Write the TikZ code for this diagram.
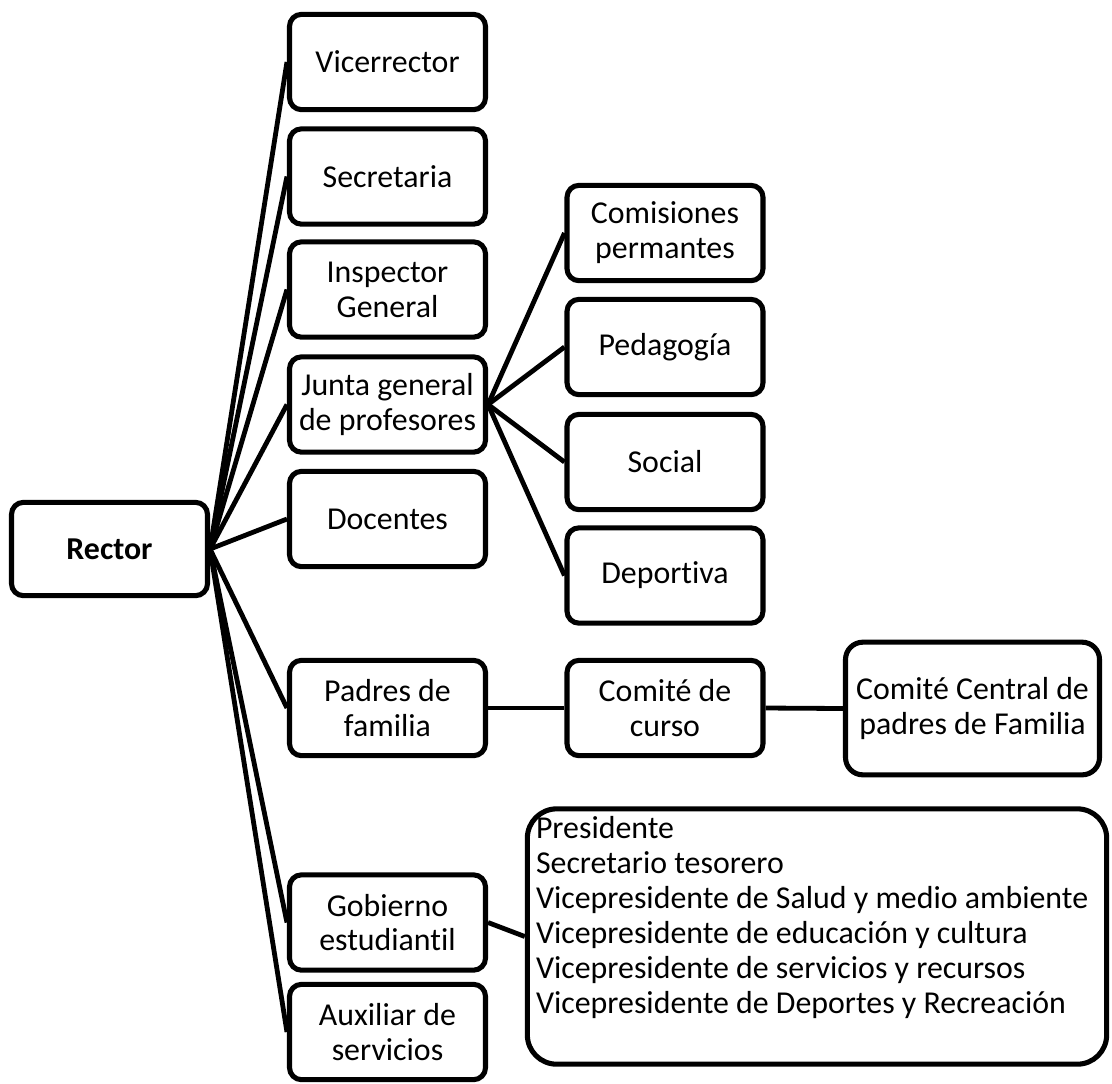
\documentclass[tikz,border=0pt]{standalone}
\usepackage{fontspec}
\setmainfont{Carlito}[Ligatures=NoCommon]

\tikzset{
  unit/.style={draw, line width=3.8pt, rounded corners=9pt, fill=white,
    minimum width=147pt, minimum height=71.5pt, inner sep=2pt, align=center},
  link/.style={line width=3.6pt},
}

\begin{document}
\begin{tikzpicture}[x=0.75pt, y=-0.75pt, font=\fontsize{23.9pt}{26.2pt}\selectfont]
  % Frame
  \useasboundingbox (0,0) rectangle (1112,1083);

  % Rector
  \node[unit, minimum height=70pt] (rector) at (109.5,549) {\bfseries Rector};

  % First level
  \node[unit] (vice)   at (387.5,62)    {Vicerrector};
  \node[unit] (secre)  at (387.5,176.5) {Secretaria};
  \node[unit] (insp)   at (387.5,289.5) {Inspector\\General};
  \node[unit] (junta)  at (387.5,404.5) {Junta general\\de profesores};
  \node[unit] (doc)    at (387.5,519)   {Docentes};
  \node[unit] (padres) at (387.5,708)   {Padres de\\familia};
  \node[unit] (gob)    at (387.5,922.5) {Gobierno\\estudiantil};
  \node[unit] (aux)    at (387.5,1032)  {Auxiliar de\\servicios};

  % Commissions of the Junta
  \node[unit] (comis)  at (665,233)   {Comisiones\\permantes};
  \node[unit] (peda)   at (665,347)   {Pedagogía};
  \node[unit] (social) at (665,462)   {Social};
  \node[unit] (depor)  at (665,575.5) {Deportiva};

  % Parents
  \node[unit] (curso)  at (665,708) {Comité de\\curso};
  \node[unit, minimum width=190.5pt, minimum height=99.5pt, rounded corners=13pt]
    (central) at (972.5,708.5) {Comité Central de\\padres de Familia};

  % Student government
  \node[draw, line width=3.8pt, rounded corners=22pt, inner xsep=6.5pt, inner ysep=6pt]
    (cargos) at (817,936.5) {%
    \begin{minipage}[c][179.5pt][t]{421.5pt}
      Presidente\\
      Secretario tesorero\\
      Vicepresidente de Salud y medio ambiente\\
      Vicepresidente de educación y cultura\\
      Vicepresidente de servicios y recursos\\
      Vicepresidente de Deportes y Recreación
    \end{minipage}};

  % Connectors
  \foreach \t in {vice,secre,insp,junta,doc,padres,gob,aux}
    \draw[link] (rector.east) -- (\t.west);
  \foreach \t in {comis,peda,social,depor}
    \draw[link] (junta.east) -- (\t.west);
  \draw[link] (padres.east) -- (curso.west);
  \draw[link] (curso.east) -- (central.west);
  \draw[link] (gob.east) -- (cargos.west);
\end{tikzpicture}
\end{document}
